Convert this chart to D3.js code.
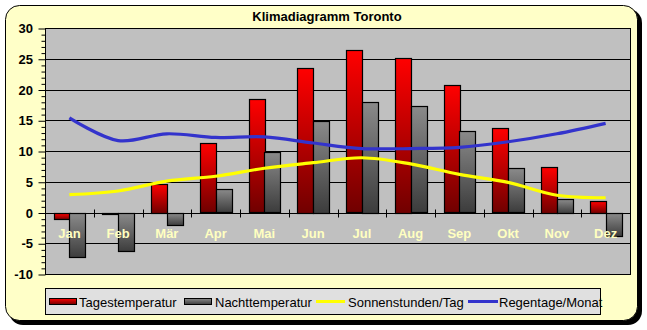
<!DOCTYPE html>
<html>
<head>
<meta charset="utf-8">
<script src="https://cdn.jsdelivr.net/npm/d3@7"></script>
<style>
  body { margin: 0; background: #ffffff; }
  svg text { font-family: "Liberation Sans", Arial, sans-serif; }
</style>
</head>
<body>
<svg id="chart" width="647" height="330"></svg>
<script>
// Klimadiagramm Toronto – monthly climate data
const months = ["Jan", "Feb", "Mär", "Apr", "Mai", "Jun", "Jul", "Aug", "Sep", "Okt", "Nov", "Dez"];
const tagesTemp = [-1.0, -0.2, 4.7, 11.3, 18.4, 23.5, 26.4, 25.2, 20.7, 13.7, 7.4, 1.9];
const nachtTemp = [-7.2, -6.2, -2.0, 3.8, 9.8, 14.9, 18.0, 17.3, 13.2, 7.2, 2.2, -3.7];
const sonnenstunden = [2.9, 3.5, 5.1, 5.9, 7.2, 8.1, 8.9, 7.9, 6.2, 4.9, 2.8, 2.4];
const regentage = [15.4, 11.7, 12.8, 12.2, 12.3, 11.3, 10.4, 10.4, 10.6, 11.5, 12.8, 14.5];
const yTicks = [30, 25, 20, 15, 10, 5, 0, -5, -10];
const legendLabels = ["Tagestemperatur", "Nachttemperatur", "Sonnenstunden/Tag", "Regentage/Monat"];

const svg = d3.select("#chart");

// gradients for bars
const defs = svg.append("defs");
function grad(id, top, bottom) {
  const g = defs.append("linearGradient").attr("id", id)
    .attr("x1", 0).attr("y1", 0).attr("x2", 0).attr("y2", 1);
  g.append("stop").attr("offset", "0%").attr("stop-color", top);
  g.append("stop").attr("offset", "100%").attr("stop-color", bottom);
}
grad("gRed", "#ff0000", "#700000");
grad("gGrey", "#8a8a8a", "#3c3c3c");

// outer frame with shadow
svg.append("rect").attr("x", 9).attr("y", 9).attr("width", 633).attr("height", 316)
  .attr("rx", 14).attr("fill", "#000");
svg.append("rect").attr("x", 5.5).attr("y", 5.5).attr("width", 632).attr("height", 315)
  .attr("rx", 14).attr("fill", "#ffffc8").attr("stroke", "#000");

// title
svg.append("text").attr("x", 327).attr("y", 21).attr("text-anchor", "middle")
  .attr("font-size", 13).attr("font-weight", "bold").text("Klimadiagramm Toronto");

const plot = { left: 45, right: 630, top: 28, bottom: 274 };

const x = d3.scaleBand().domain(months).range([plot.left, plot.right]).paddingInner(0).paddingOuter(0);
const y = d3.scaleLinear().domain([-10, 30]).range([plot.bottom, plot.top]);

// plot background
svg.append("rect").attr("x", plot.left).attr("y", plot.top)
  .attr("width", plot.right - plot.left).attr("height", plot.bottom - plot.top)
  .attr("fill", "#c0c0c0");

// grid lines
svg.append("g").selectAll("line").data(yTicks).join("line")
  .attr("x1", plot.left).attr("x2", plot.right)
  .attr("y1", d => Math.round(y(d)) + 0.5).attr("y2", d => Math.round(y(d)) + 0.5)
  .attr("stroke", "#000").attr("stroke-width", 1);

// y axis with minor ticks
const yAxis = d3.axisLeft(y).tickValues(d3.range(-10, 31, 1)).tickSize(4).tickFormat("");
const gy = svg.append("g").attr("transform", `translate(${plot.left + 0.5},0.5)`).call(yAxis);
gy.select(".domain").remove();
gy.selectAll(".tick line").attr("stroke", "#000");
gy.selectAll(".tick").filter(d => d % 5 === 0).select("line").attr("x2", -7);
svg.append("g").selectAll("text").data(yTicks).join("text")
  .attr("x", 33).attr("y", d => y(d) + 5)
  .attr("text-anchor", "end").attr("font-size", 13).attr("font-weight", "bold")
  .text(d => d);

// bars
const inner = d3.scaleBand().domain(["tag", "nacht"]).range([0, x.bandwidth()]).paddingInner(0).paddingOuter(0.54);
const bars = svg.append("g");
function drawBars(values, key, fill) {
  bars.selectAll("rect." + key).data(values).join("rect").attr("class", key)
    .attr("x", (d, i) => Math.round(x(months[i]) + inner(key)) + 0.5)
    .attr("y", d => Math.round(y(Math.max(0, d))) + 0.5)
    .attr("width", Math.round(inner.bandwidth()))
    .attr("height", d => Math.max(1, Math.round(Math.abs(y(d) - y(0)))))
    .attr("fill", fill).attr("stroke", "#000").attr("stroke-width", 1.2);
}
drawBars(tagesTemp, "tag", "url(#gRed)");
drawBars(nachtTemp, "nacht", "url(#gGrey)");

// x axis line at zero and category ticks
const y0 = Math.round(y(0)) + 0.5;
svg.append("line").attr("x1", plot.left).attr("x2", plot.right).attr("y1", y0).attr("y2", y0)
  .attr("stroke", "#000");
svg.append("g").selectAll("line").data(months.slice(1)).join("line")
  .attr("x1", d => Math.round(x(d)) + 0.5).attr("x2", d => Math.round(x(d)) + 0.5)
  .attr("y1", y0 - 4).attr("y2", y0 + 4).attr("stroke", "#000");

// month labels
svg.append("g").selectAll("text").data(months).join("text")
  .attr("x", d => x(d) + x.bandwidth() / 2).attr("y", y0 + 24)
  .attr("text-anchor", "middle").attr("font-size", 13).attr("font-weight", "bold")
  .attr("fill", "#ffffc0").text(d => d);

// smoothed lines
const line = d3.line()
  .x((d, i) => x(months[i]) + x.bandwidth() / 2)
  .y(d => y(d))
  .curve(d3.curveCatmullRom.alpha(0.5));
svg.append("path").attr("d", line(sonnenstunden)).attr("fill", "none")
  .attr("stroke", "#ffff00").attr("stroke-width", 3.2);
svg.append("path").attr("d", line(regentage)).attr("fill", "none")
  .attr("stroke", "#3333cc").attr("stroke-width", 3.2);

// plot border
svg.append("rect").attr("x", plot.left + 0.5).attr("y", plot.top + 0.5)
  .attr("width", plot.right - plot.left).attr("height", plot.bottom - plot.top)
  .attr("fill", "none").attr("stroke", "#000");

// legend
const lg = svg.append("g");
lg.append("rect").attr("x", 45.5).attr("y", 288.5).attr("width", 555).attr("height", 26)
  .attr("fill", "#e0e0e0").attr("stroke", "#000");
const swatchX = [49, 184, 316, 468];
const legendTextX = [79, 215, 348, 499];
const ly = 301.5;
lg.append("rect").attr("x", swatchX[0] + 0.5).attr("y", ly - 3).attr("width", 27).attr("height", 6)
  .attr("fill", "url(#gRed)").attr("stroke", "#000");
lg.append("rect").attr("x", swatchX[1] + 0.5).attr("y", ly - 3).attr("width", 27).attr("height", 6)
  .attr("fill", "url(#gGrey)").attr("stroke", "#000");
lg.append("line").attr("x1", swatchX[2]).attr("x2", swatchX[2] + 29).attr("y1", ly).attr("y2", ly)
  .attr("stroke", "#ffff00").attr("stroke-width", 3);
lg.append("line").attr("x1", swatchX[3]).attr("x2", swatchX[3] + 30).attr("y1", ly).attr("y2", ly)
  .attr("stroke", "#3333cc").attr("stroke-width", 3);
lg.selectAll("text").data(legendLabels).join("text")
  .attr("x", (d, i) => legendTextX[i]).attr("y", ly + 5)
  .attr("font-size", 13).text(d => d);
</script>
</body>
</html>
